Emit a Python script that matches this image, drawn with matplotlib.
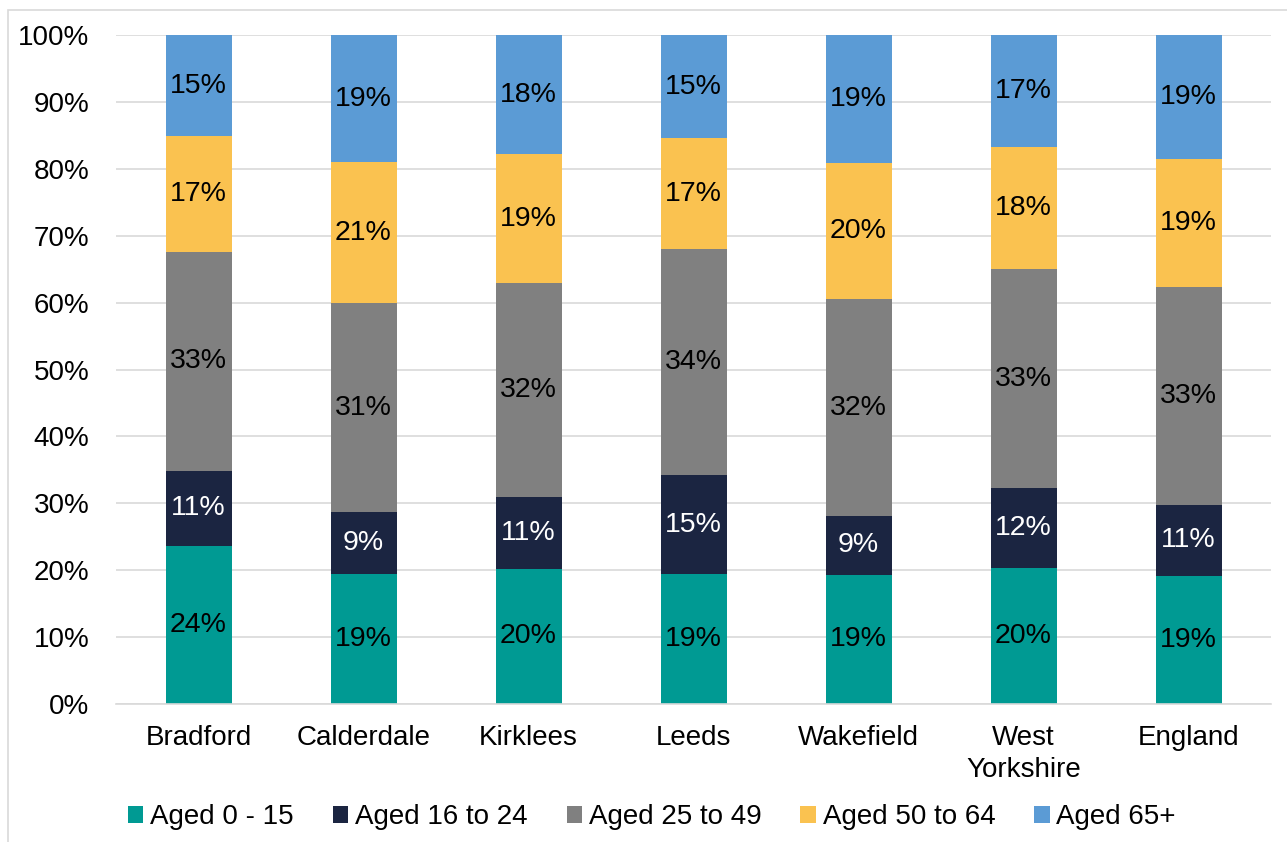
import matplotlib.pyplot as plt
import numpy as np
from matplotlib.patches import Rectangle

plt.rcParams["font.family"] = ["Liberation Sans", "DejaVu Sans"]

areas = ["Bradford", "Calderdale", "Kirklees", "Leeds", "Wakefield", "West\nYorkshire", "England"]
age_groups = ["Aged 0 - 15", "Aged 16 to 24", "Aged 25 to 49", "Aged 50 to 64", "Aged 65+"]

aged_0_15 = [23.6, 19.4, 20.2, 19.4, 19.3, 20.4, 19.2]
aged_16_24 = [11.3, 9.3, 10.7, 14.8, 8.8, 11.9, 10.6]
aged_25_49 = [32.6, 31.2, 32.0, 33.8, 32.4, 32.7, 32.6]
aged_50_64 = [17.4, 21.1, 19.3, 16.6, 20.4, 18.3, 19.0]
aged_65_plus = [15.1, 19.0, 17.8, 15.4, 19.1, 16.7, 18.6]

colors = ["#009A93", "#1B2541", "#808080", "#FAC250", "#5B9BD5"]
label_colors = ["black", "white", "black", "black", "black"]

series = [aged_0_15, aged_16_24, aged_25_49, aged_50_64, aged_65_plus]

fig = plt.figure(figsize=(12.87, 8.42), dpi=100)
ax = fig.add_axes([116 / 1287, 1 - 704 / 842, 1155 / 1287, 669 / 842])

x = np.arange(len(areas))
bottom = np.zeros(len(areas))
for vals, name, col, tcol in zip(series, age_groups, colors, label_colors):
    vals = np.array(vals)
    ax.bar(x, vals, 0.4, bottom=bottom, color=col, label=name, zorder=2)
    for xi, b, v in zip(x, bottom, vals):
        ax.text(xi, b + v / 2, f"{v:.0f}%", ha="center", va="center",
                fontsize=20.5, color=tcol, zorder=3)
    bottom += vals

ax.set_xlim(-0.5, len(areas) - 0.5)
ax.set_ylim(0, 100)
ax.set_yticks(np.arange(0, 101, 10))
ax.set_yticklabels([f"{t}%" for t in range(0, 101, 10)])
ax.set_xticks(x)
ax.set_xticklabels(areas, linespacing=1.32)
ax.yaxis.grid(True, color="#D9D9D9", linewidth=1.2, zorder=0)
ax.set_axisbelow(True)
for side in ["left", "right", "top"]:
    ax.spines[side].set_visible(False)
ax.spines["bottom"].set_color("#D9D9D9")
ax.spines["bottom"].set_linewidth(1.2)
ax.tick_params(axis="both", length=0, labelsize=20, colors="black")
ax.tick_params(axis="y", pad=19)
ax.tick_params(axis="x", pad=15)

ax.legend(loc="center", bbox_to_anchor=(652 / 1287, 1 - 817 / 842),
          bbox_transform=fig.transFigure, ncol=5, frameon=False,
          fontsize=20, handlelength=0.55, handleheight=0.55,
          handletextpad=0.25, columnspacing=1.4)

# light frame around the chart area
fig.patches.append(Rectangle((8 / 1287, -0.1), 1.2, 1 - 10 / 842 + 0.1,
                             transform=fig.transFigure, fill=False,
                             edgecolor="#D9D9D9", linewidth=1.2))

fig.savefig("out.png", dpi=100)
